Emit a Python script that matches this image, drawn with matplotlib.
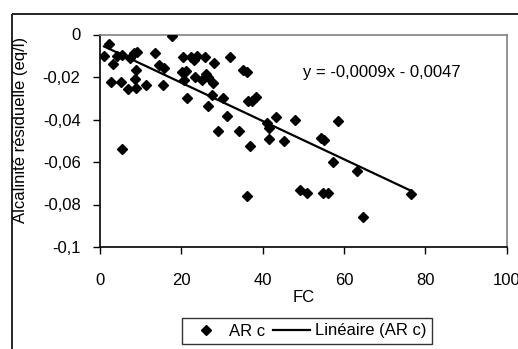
import matplotlib
matplotlib.use("Agg")
import matplotlib.pyplot as plt
import numpy as np
from matplotlib.lines import Line2D

plt.rcParams["font.family"] = ["Liberation Sans", "DejaVu Sans"]
plt.rcParams["font.size"] = 12

# données
fc = [1.0, 2.3, 3.3, 2.8, 4.2, 5.3, 5.1, 5.3, 6.8, 7.5,
      8.3, 9.2, 8.8, 8.6, 8.8, 11.3, 13.5, 14.6, 15.8, 15.5,
      17.6, 20.3, 20.2, 21.1, 20.7, 21.5, 22.5, 23.2, 23.8, 25.8,
      23.3, 25.0, 26.1, 26.6, 27.9, 28.1, 26.5, 27.5, 30.2, 31.3,
      28.9, 32.0, 34.2, 35.1, 36.2, 36.3, 37.5, 38.4, 36.9, 41.1,
      41.5, 43.3, 41.5, 45.2, 48.0, 58.6, 54.3, 55.0, 57.2, 63.1,
      76.5, 36.2, 49.2, 51.0, 54.9, 56.1, 64.6]
ar_c = [-0.0100, -0.0046, -0.0139, -0.0222, -0.0101, -0.0096, -0.0222, -0.0537, -0.0258, -0.0112,
        -0.0088, -0.0084, -0.0167, -0.0209, -0.0253, -0.0238, -0.0088, -0.0144, -0.0159, -0.0238,
        -0.0005, -0.0104, -0.0175, -0.0172, -0.0214, -0.0300, -0.0104, -0.0120, -0.0101, -0.0104,
        -0.0201, -0.0214, -0.0186, -0.0198, -0.0230, -0.0133, -0.0336, -0.0285, -0.0300, -0.0384,
        -0.0454, -0.0104, -0.0454, -0.0167, -0.0175, -0.0313, -0.0313, -0.0293, -0.0523, -0.0418,
        -0.0441, -0.0390, -0.0490, -0.0501, -0.0402, -0.0406, -0.0489, -0.0495, -0.0600, -0.0642,
        -0.0752, -0.0760, -0.0732, -0.0744, -0.0744, -0.0744, -0.0857]
pente = -0.0009
ordonnee = -0.0047

x_ticks = [0, 20, 40, 60, 80, 100]
y_ticks = [0, -0.02, -0.04, -0.06, -0.08, -0.1]
y_tick_labels = ["0", "-0,02", "-0,04", "-0,06", "-0,08", "-0,1"]

fig = plt.figure(figsize=(5.18, 3.49), dpi=100)

ax = fig.add_axes([100 / 518, 1 - 247 / 349, 406.6 / 518, 212.5 / 349])

ax.plot(fc, ar_c, linestyle="none", marker="D", markersize=5.2,
        color="black", label="AR c", zorder=3)

xs = np.array([min(fc), max(fc)])
ax.plot(xs, pente * xs + ordonnee, color="black", lw=1.6, label="Linéaire (AR c)")

ax.set_xlim(0, 100)
ax.set_ylim(-0.1, 0)
ax.set_xticks(x_ticks)
ax.set_yticks(y_ticks)
ax.set_yticklabels(y_tick_labels)
ax.tick_params(direction="out", length=5, width=1, pad=9)
ax.tick_params(axis="x", pad=14)

for s in ["top", "right"]:
    ax.spines[s].set_color("#808080")
    ax.spines[s].set_linewidth(1.2)
for s in ["left", "bottom"]:
    ax.spines[s].set_color("black")
    ax.spines[s].set_linewidth(1.2)

ax.set_xlabel("FC", labelpad=1)
fig.text(21 / 518, 1 - 130 / 349, "Alcalinité résiduelle (eq/l)",
         rotation=90, ha="center", va="center")

ax.text(0.499, 0.82, "y = -0,0009x - 0,0047", transform=ax.transAxes,
        ha="left", va="center")

handles = [Line2D([], [], linestyle="none", marker="D", markersize=5, color="black"),
           Line2D([], [], color="black", lw=1.6)]
leg = fig.legend(handles, ["AR c", "Linéaire (AR c)"], ncol=2,
                 loc="center", bbox_to_anchor=(307 / 518, 1 - 331 / 349),
                 frameon=True, fancybox=False, edgecolor="black",
                 handlelength=2.2, handletextpad=0.3, columnspacing=0.5,
                 borderpad=0.35)
leg.get_frame().set_linewidth(1.0)

# cadre extérieur (coupé à droite et en bas), dans un axe transparent en pixels, au-dessus
cadre = fig.add_axes([0, 0, 1, 1], zorder=10)
cadre.set_xlim(0, 518)
cadre.set_ylim(349, 0)
cadre.axis("off")
cadre.plot([11.5, 520], [13.5, 13.5], color="black", lw=1.2, solid_capstyle="butt")
cadre.plot([11.5, 11.5], [13.5, 352], color="black", lw=1.2, solid_capstyle="butt")

fig.savefig("out.png", dpi=100)
